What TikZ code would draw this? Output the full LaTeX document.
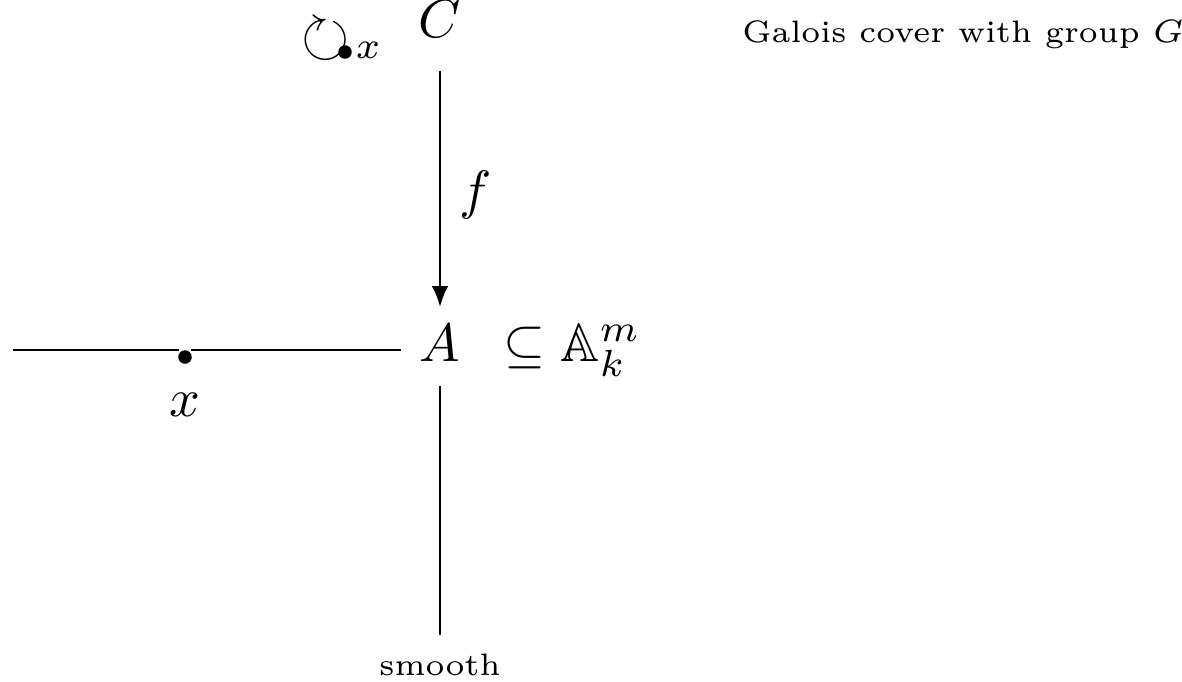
\documentclass[tikz,border=0pt]{standalone}
\usepackage{amsmath, amssymb}
\usepackage{graphicx}
\usetikzlibrary{arrows.meta}

\begin{document}
\begin{tikzpicture}[
    x=0.1852pt, y=-0.1852pt,
    obj/.style={text height=1.5ex, text depth=.25ex},
    note/.style={font=\fontsize{5.75}{7}\selectfont},
    dot/.style={circle, fill, inner sep=0pt, minimum size=2.5pt},
    map/.style={line width=0.5pt},
    cover/.style={map, -{Latex[length=3.9pt, width=3.1pt]}, shorten <=1.5pt}
  ]
  \useasboundingbox (0,0) rectangle (1182,681);
  \node[obj] (C) at (440,23) {$C$};
  \node[obj] (A) at (440,346.5) {$A$};
  \node[anchor=base west] (incl) at ([xshift=8.3pt]A.base) {$\subseteq \mathbb{A}_k^m$};
  % the action of G, fixing the point x
  \node[inner sep=0pt] (act) at (326,40) {\scalebox{1.15}{$\circlearrowright$}};
  \node[dot] (fixpt) at (345,52) {};
  \node (fixlabel) at (368,50) {$\scriptstyle x$};
  \node[note] (galois) at (963,35) {Galois cover with group $G$};
  \node[note] (smooth) at (440,665) {smooth};
  \node[dot] (pt) at (185,357) {};
  \node (ptlabel) at (185,405) {$x$};
  \coordinate (lend) at (13,350);

  \draw[cover] (C) -- node[right, pos=0.54] {$f$} (A);
  \draw[map] (A) -- (smooth);
  \draw[map] (lend) -- (lend -| pt.north west);
  \draw[map] (lend -| pt.north east) -- (lend -| A.west);
\end{tikzpicture}
\end{document}
